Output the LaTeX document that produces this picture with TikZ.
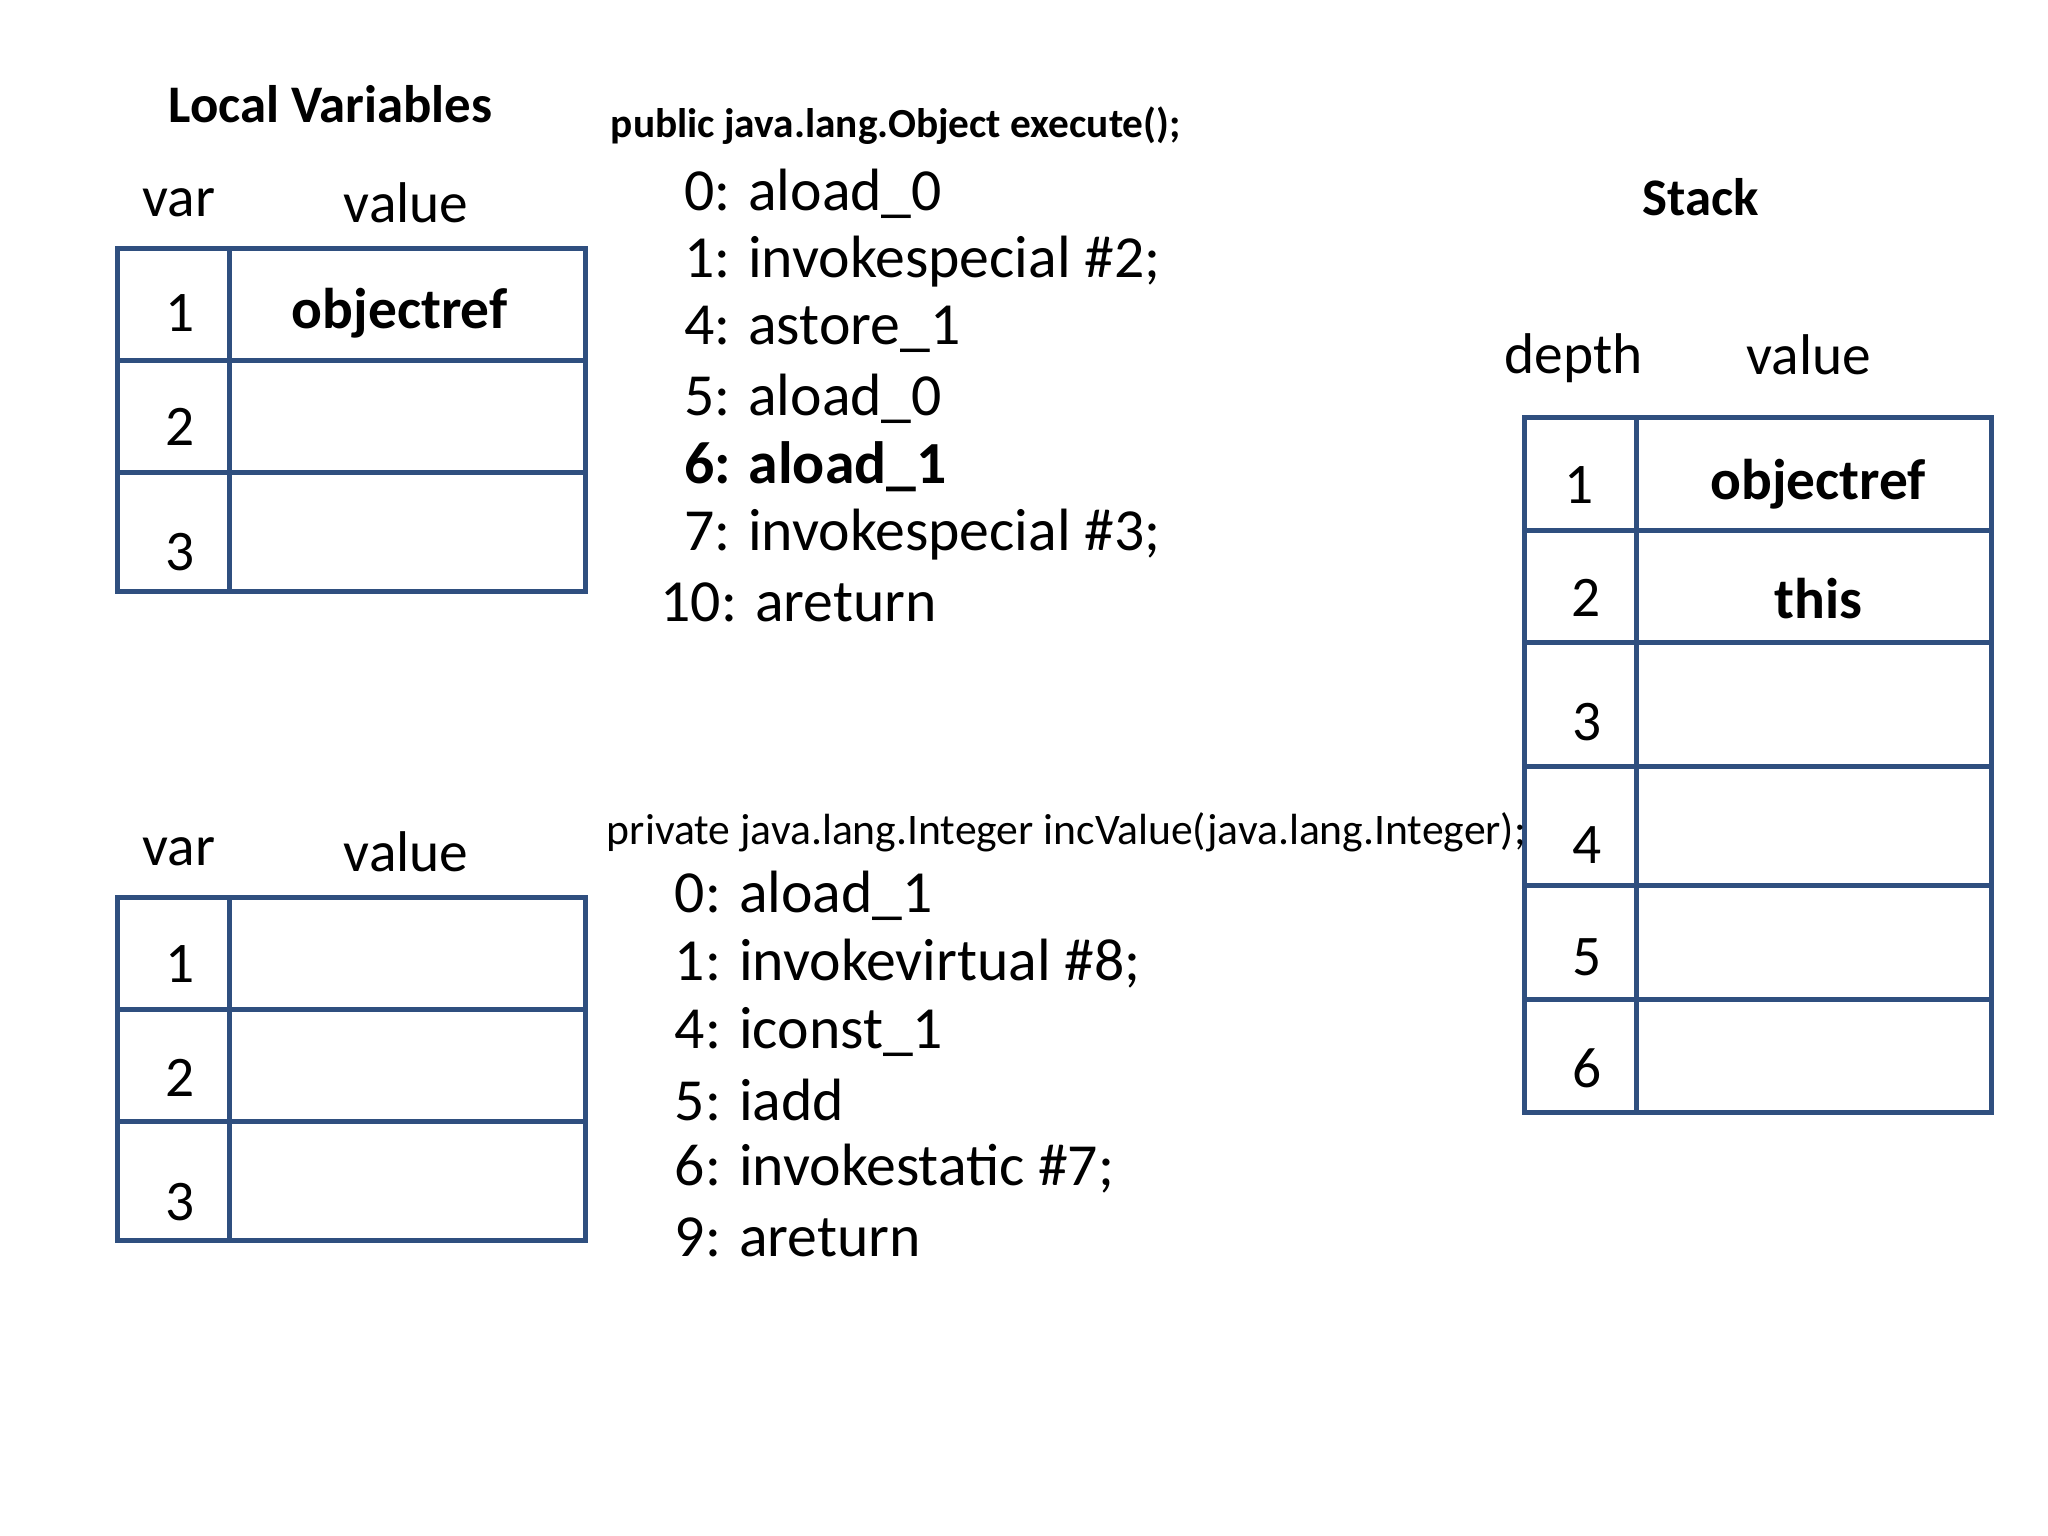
\documentclass[tikz,border=0pt]{standalone}
\usepackage{fontspec}
\setmainfont{Carlito}
\begin{document}
\begin{tikzpicture}[x=0.01cm,y=-0.01cm,
  tl/.style={draw=tblue,line width=1.1pt},
  t/.style={inner sep=0pt,font=\fontsize{12.5}{14}\selectfont},
  code/.style={inner sep=0pt,anchor=west,font=\fontsize{13}{15}\selectfont},
  hd/.style={inner sep=0pt,font=\bfseries\fontsize{11.5}{13}\selectfont}]
\definecolor{tblue}{HTML}{2F4F7F}
\useasboundingbox (0,0) rectangle (1568,1176);
% local top table
\draw[tl] (90,190) rectangle (448,453);
\draw[tl] (176,190) -- (176,453);
\draw[tl] (90,276) -- (448,276) (90,362) -- (448,362);
% local bottom table
\draw[tl] (90,687) rectangle (448,950);
\draw[tl] (176,687) -- (176,950);
\draw[tl] (90,773) -- (448,773) (90,859) -- (448,859);
% stack
\draw[tl] (1167,320) rectangle (1525,852);
\draw[tl] (1253,320) -- (1253,852);
\foreach \y in {406,492,587,678,765} \draw[tl] (1167,\y) -- (1525,\y);
% texts
\node[hd] (lvt) at (253,80) {Local Variables};
\node[t] (v1) at (137,155) {var};
\node[t] (va1) at (311,155) {value};
\node[t] (a1) at (138,240) {1};
\node[t,font=\bfseries\fontsize{12.5}{14}\selectfont] (ao) at (306,240) {objectref};
\node[t] (a2) at (138,327) {2};
\node[t] (a3) at (138,423) {3};
\node[t] (v2) at (137,652) {var};
\node[t] (va2) at (311,652) {value};
\node[t] (b1) at (138,738) {1};
\node[t] (b2) at (138,825) {2};
\node[t] (b3) at (138,920) {3};
\node[hd] (st) at (1302,151) {Stack};
\node[t] (dp) at (1205,274) {depth};
\node[t] (sv) at (1385,272) {value};
\node[t] (s1) at (1209,371) {1};
\node[t,font=\bfseries\fontsize{12.5}{14}\selectfont] (so) at (1392,371) {objectref};
\node[t] (s2) at (1214,458) {2};
\node[t,font=\bfseries\fontsize{12.5}{14}\selectfont] (sth) at (1392,458) {this};
\node[t] (s3) at (1215,553) {3};
\node[t] (s4) at (1215,647) {4};
\node[t] (s5) at (1215,733) {5};
\node[t] (s6) at (1215,818) {6};
\node[inner sep=0pt,anchor=west,font=\bfseries\fontsize{9}{11}\selectfont] (h1) at (467,96) {public java.lang.Object execute();};
\node[code] (c1) at (523,148) {0: aload\_0};
\node[code] (c2) at (523,200) {1: invokespecial \#2;};
\node[code] (c3) at (523,252) {4: astore\_1};
\node[code] (c4) at (523,305) {5: aload\_0};
\node[code,font=\bfseries\fontsize{13}{15}\selectfont] (c5) at (523,357) {6: aload\_1};
\node[code] (c6) at (523,409) {7: invokespecial \#3;};
\node[code] (c7) at (505,461) {10: areturn};
\node[inner sep=0pt,anchor=west,font=\fontsize{9.5}{11}\selectfont] (h2) at (464,637) {private java.lang.Integer incValue(java.lang.Integer);};
\node[code] (d1) at (516,686) {0: aload\_1};
\node[code] (d2) at (516,738) {1: invokevirtual \#8;};
\node[code] (d3) at (516,790) {4: iconst\_1};
\node[code] (d4) at (516,842) {5: iadd};
\node[code] (d5) at (516,895) {6: invokestatic \#7;};
\node[code] (d6) at (516,947) {9: areturn};
\end{tikzpicture}
\end{document}
